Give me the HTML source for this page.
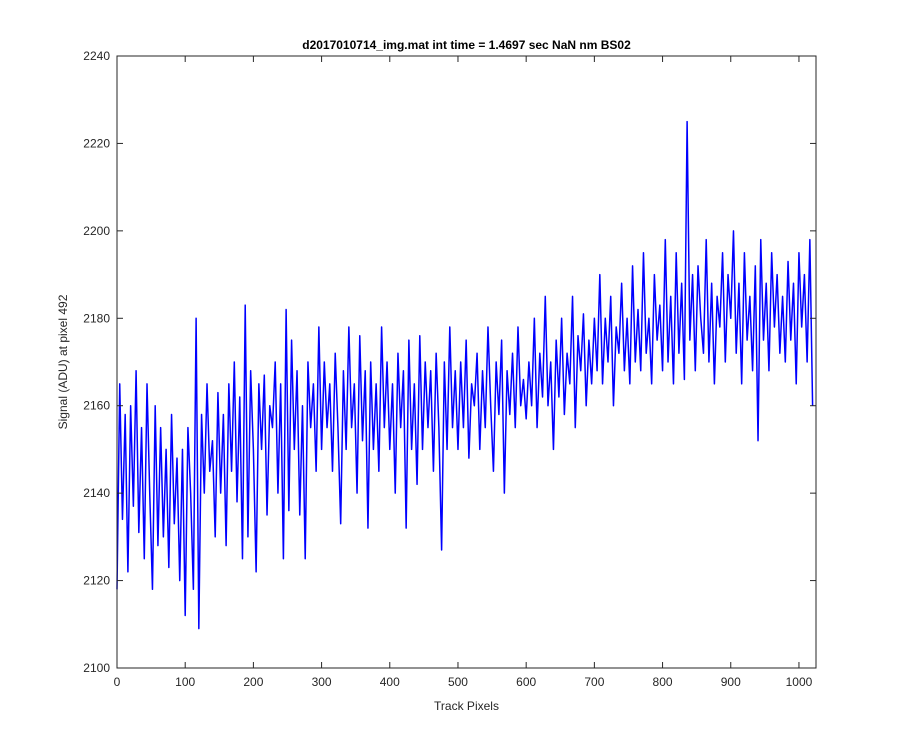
<!DOCTYPE html>
<html><head><meta charset="utf-8"><style>
body{margin:0;background:#fff;}
svg{display:block;font-family:"Liberation Sans",Arial,sans-serif;}
</style></head><body>
<svg id="chart" width="900" height="750">
<rect x="0" y="0" width="900" height="750" fill="#fff"/>
<g id="plot"></g>
</svg>
<script>
const xTicks=[0,100,200,300,400,500,600,700,800,900,1000];
const yTicks=[2100,2120,2140,2160,2180,2200,2220,2240];
const step=4;
const signal=[2118,2165,2134,2158,2122,2160,2137,2168,2131,2155,2125,2165,2140,2118,2160,2128,2155,2130,2150,2123,2158,2133,2148,2120,2150,2112,
2155,2140,2118,2180,2109,2158,2140,2165,2145,2152,2130,2163,2140,2158,2128,2165,2145,2170,2138,2162,2125,2183,2130,2168,2150,
2122,2165,2150,2167,2135,2160,2155,2170,2140,2165,2125,2182,2136,2175,2150,2168,2135,2160,2125,2170,2155,2165,2145,2178,2150,
2170,2155,2165,2145,2172,2155,2133,2168,2150,2178,2155,2165,2140,2176,2152,2168,2132,2170,2150,2165,2145,2178,2155,2170,2150,
2165,2140,2172,2155,2168,2132,2175,2150,2165,2142,2176,2150,2170,2155,2168,2145,2172,2155,2127,2170,2150,2178,2155,2168,2150,
2170,2155,2175,2148,2165,2160,2172,2150,2168,2155,2178,2160,2145,2170,2158,2175,2140,2168,2158,2172,2155,2178,2160,2166,2157,
2170,2160,2180,2155,2172,2162,2185,2160,2170,2150,2175,2162,2180,2158,2172,2165,2185,2155,2176,2168,2181,2160,2175,2165,2180,
2168,2190,2165,2180,2170,2185,2160,2178,2172,2188,2168,2180,2165,2192,2170,2182,2168,2195,2172,2180,2165,2190,2175,2183,2168,
2198,2170,2185,2165,2195,2172,2188,2166,2225,2175,2190,2168,2192,2180,2172,2198,2170,2188,2165,2185,2178,2195,2170,2190,2180,
2200,2172,2188,2165,2195,2175,2185,2168,2192,2152,2198,2175,2188,2168,2195,2178,2190,2172,2185,2170,2193,2175,2188,2165,2195,
2178,2190,2170,2198,2160];
const L=117,R=816,T=56,B=668,XMAX=1025,YMIN=2100,YMAX=2240;
const sx=v=>L+(v/XMAX)*(R-L);
const sy=v=>B-(v-YMIN)/(YMAX-YMIN)*(B-T);
const NS='http://www.w3.org/2000/svg';
const g=document.getElementById('plot');
function mk(tag,attrs){const e=document.createElementNS(NS,tag);for(const k in attrs)e.setAttribute(k,attrs[k]);g.appendChild(e);return e;}
let r=mk('rect',{x:L,y:T,width:R-L,height:B-T,fill:'#fff'});


let d=signal.map((v,i)=>(i?'L':'M')+sx(i*step).toFixed(2)+','+sy(v).toFixed(2)).join('');
let line=mk('path',{d:d,fill:'none',stroke:'#0000ff','stroke-width':1.5,'stroke-linejoin':'round'});


let box=mk('rect',{x:L,y:T,width:R-L,height:B-T,fill:'none',stroke:'#262626','stroke-width':1});


xTicks.forEach(t=>{const x=sx(t);
 mk('line',{x1:x,y1:B,x2:x,y2:B-6,stroke:'#262626'});
 mk('line',{x1:x,y1:T,x2:x,y2:T+6,stroke:'#262626'});
 let tx=mk('text',{x:x,y:B+18,'text-anchor':'middle','font-size':12,fill:'#262626'});tx.textContent=t;
 
 
});
yTicks.forEach(t=>{const y=sy(t);
 mk('line',{x1:L,y1:y,x2:L+6,y2:y,stroke:'#262626'});
 mk('line',{x1:R,y1:y,x2:R-6,y2:y,stroke:'#262626'});
 let tx=mk('text',{x:L-7,y:y+4,'text-anchor':'end','font-size':12,fill:'#262626'});tx.textContent=t;
 
 
});
let ti=mk('text',{x:(L+R)/2,y:49,'text-anchor':'middle','font-size':12,'font-weight':'bold',fill:'#000'});
ti.textContent='d2017010714_img.mat int time = 1.4697 sec  NaN nm BS02';
ti.setAttribute('xml:space','preserve');


let xl=mk('text',{x:(L+R)/2,y:710,'text-anchor':'middle','font-size':12,fill:'#262626'});
xl.textContent='Track Pixels';


let yl=mk('text',{x:0,y:0,'text-anchor':'middle','font-size':12,fill:'#262626',transform:'translate(67,'+((T+B)/2)+') rotate(-90)'});
yl.textContent='Signal (ADU) at pixel 492';


</script>
</body></html>
